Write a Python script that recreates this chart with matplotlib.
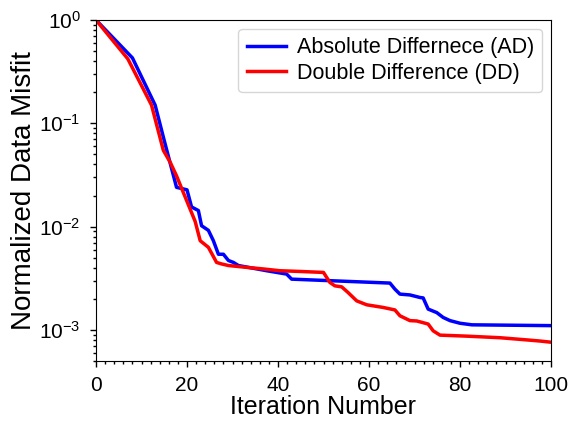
import numpy as np
import matplotlib
matplotlib.use("Agg")
import matplotlib.pyplot as plt
from matplotlib.ticker import MultipleLocator

plt.rcParams["font.family"] = ["Liberation Sans", "DejaVu Sans"]
plt.rcParams["mathtext.fontset"] = "custom"
plt.rcParams["mathtext.rm"] = "Liberation Sans"

# ---- data (breakpoints of each curve) ---------------------------------------
ad_iter = [0, 8, 13, 15, 17.7, 20, 21, 22.5, 23.2, 24.7, 25.8, 26.9, 28, 29.1, 30.2, 31.3,
           37.5, 41.9, 43, 64.6, 65.7, 66.8, 69, 71.2, 71.9, 73, 74.9, 76.3, 77.8, 80, 82.6, 100]
ad_misfit = [1.0, 0.43, 0.15, 0.068, 0.024, 0.0227, 0.0155, 0.0143, 0.0102, 0.0092, 0.0073,
             0.0054, 0.0054, 0.0047, 0.0045, 0.0042, 0.00374, 0.00347, 0.0031, 0.00284, 0.00248,
             0.00222, 0.00218, 0.00206, 0.00204, 0.00159, 0.00147, 0.00132, 0.00123, 0.00116,
             0.00112, 0.0011]

dd_iter = [0, 7, 12.2, 14.8, 16.3, 17.7, 21.8, 22.9, 24.7, 26.5, 27.6, 29.1, 33.1, 36.8,
           40.4, 44.8, 50, 51.4, 52.5, 54, 55.4, 57.3, 59.5, 63.1, 65.7, 66.8, 69, 70.5, 73,
           74.1, 75.6, 81.5, 88.8, 94.7, 97.6, 100]
dd_misfit = [1.0, 0.42, 0.15, 0.0547, 0.042, 0.031, 0.0112, 0.0073, 0.0063, 0.0045, 0.00435,
             0.0042, 0.00403, 0.00389, 0.00374, 0.00368, 0.0036, 0.00288, 0.00267, 0.00261,
             0.0023, 0.00191, 0.00175, 0.00165, 0.00156, 0.00137, 0.00123, 0.00122, 0.00114,
             0.00098, 0.00089, 0.00087, 0.00084, 0.0008, 0.00078, 0.00076]

fig = plt.figure(figsize=(5.73, 4.23), dpi=100)
# axes box: x 96..551 px, y 20..361 px
ax = fig.add_axes([96 / 573, 1 - 361 / 423, 455 / 573, 341 / 423])
ax.semilogy(ad_iter, ad_misfit, color="#0000ff", lw=2.5, label="Absolute Differnece (AD)")
ax.semilogy(dd_iter, dd_misfit, color="#ff0000", lw=2.5, label="Double Difference (DD)")

ax.set_xlim(0, 100)
ax.set_ylim(5e-4, 1)
ax.xaxis.set_minor_locator(MultipleLocator(2))
ax.tick_params(which="major", direction="out", length=4, width=1, pad=7, labelsize=15)
ax.tick_params(which="minor", direction="out", length=2.5, width=1)
ax.set_xlabel("Iteration Number", fontsize=18, labelpad=0)
ax.set_ylabel("Normalized Data Misfit", fontsize=20, labelpad=2)
ax.legend(loc="upper right", fontsize=15.5, handlelength=1.8, handletextpad=0.5,
          borderaxespad=0.4, labelspacing=0.2)

fig.savefig("out.png", dpi=100)
